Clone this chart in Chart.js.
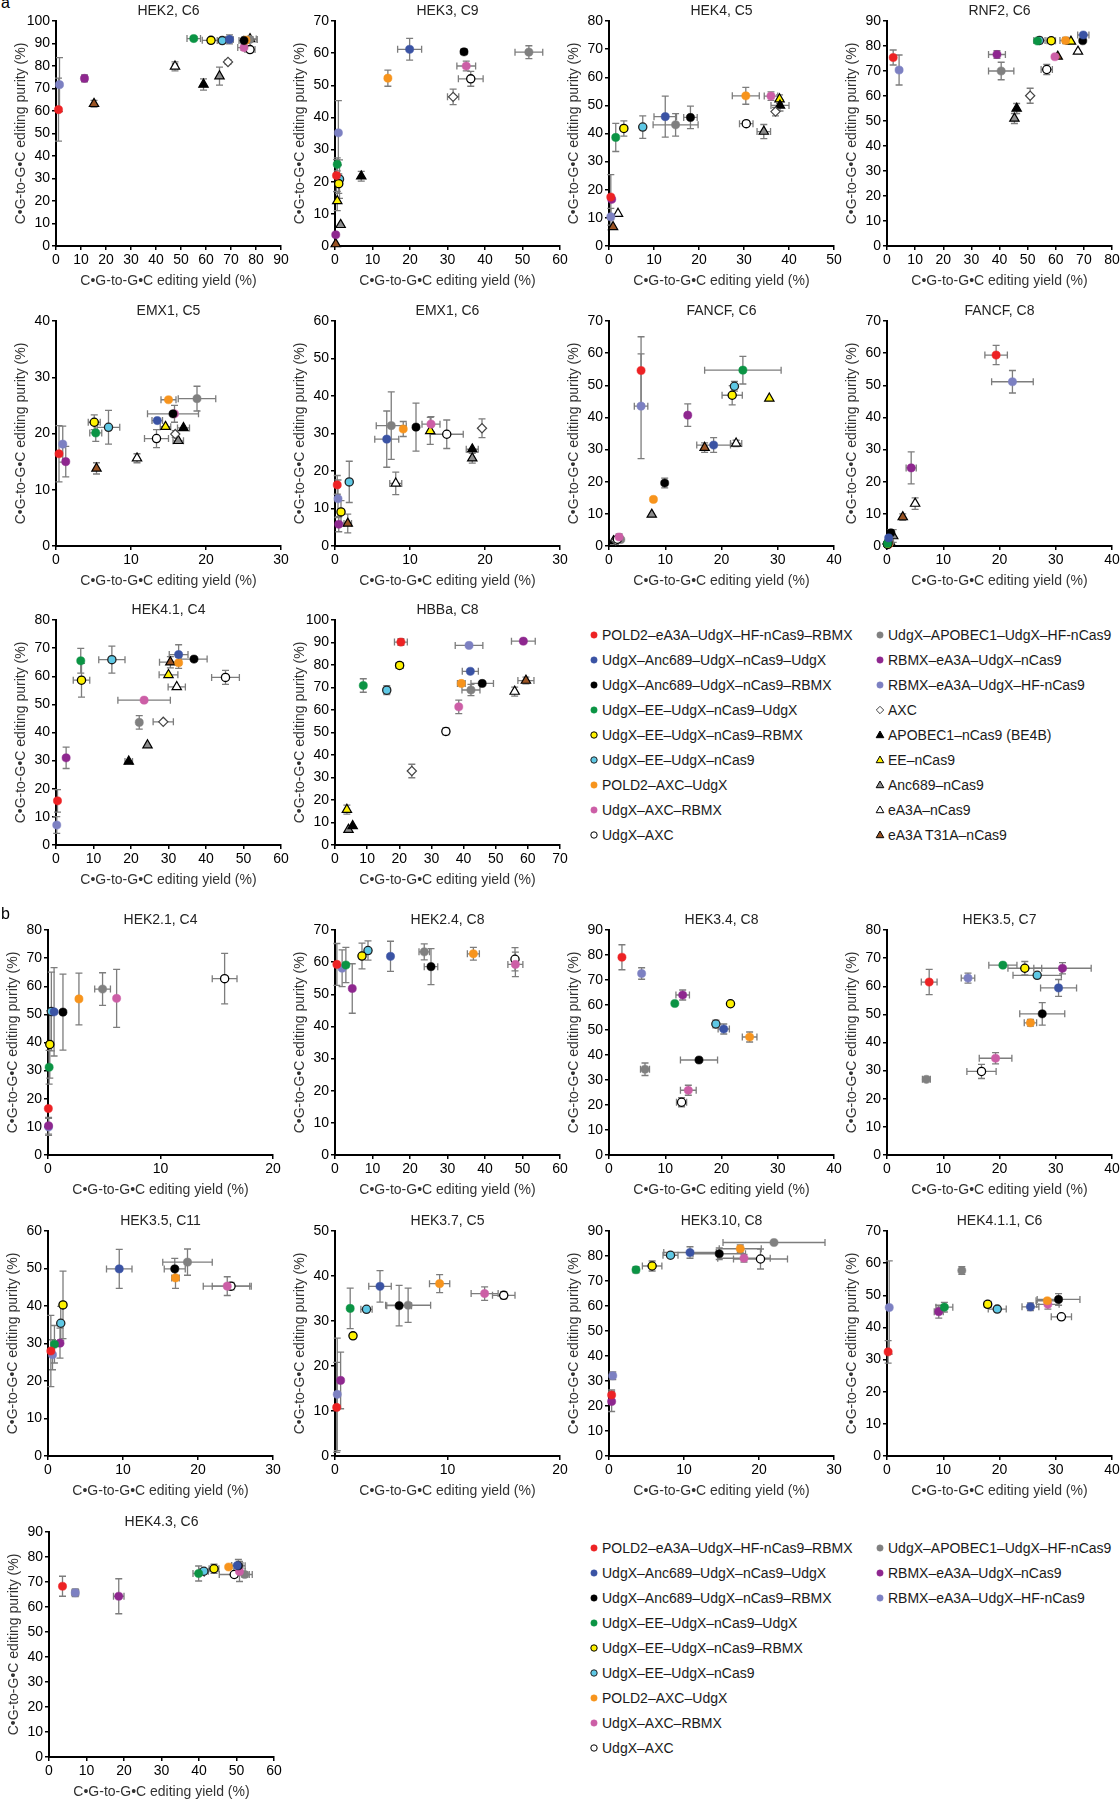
<!DOCTYPE html>
<html>
<head>
<meta charset="utf-8">
<script src="https://cdn.jsdelivr.net/npm/chart.js@4.4.1/dist/chart.umd.min.js"></script>
<style>
  html, body { margin: 0; padding: 0; background: #fff; overflow: hidden; }
  #page { position: relative; width: 1120px; height: 1800px; overflow: hidden; font-family: "Liberation Sans", Arial, sans-serif; }
  .panel { position: absolute; }
  .tag { position: absolute; font-size: 16px; line-height: 16px; color: #000; }
  .lg { position: absolute; display: flex; align-items: center; height: 18px; font-size: 14px; color: #1a1a1a; white-space: nowrap; }
  .lg svg { margin-right: 2px; flex: none; }
</style>
</head>
<body>
<div id="page"></div>
<script>
// series (legend order)
const SERIES = [
  'POLD2–eA3A–UdgX–HF-nCas9–RBMX', 'UdgX–Anc689–UdgX–nCas9–UdgX', 'UdgX–Anc689–UdgX–nCas9–RBMX',
  'UdgX–EE–UdgX–nCas9–UdgX', 'UdgX–EE–UdgX–nCas9–RBMX', 'UdgX–EE–UdgX–nCas9',
  'POLD2–AXC–UdgX', 'UdgX–AXC–RBMX', 'UdgX–AXC',
  'UdgX–APOBEC1–UdgX–HF-nCas9', 'RBMX–eA3A–UdgX–nCas9', 'RBMX–eA3A–UdgX–HF-nCas9',
  'AXC', 'APOBEC1–nCas9 (BE4B)', 'EE–nCas9', 'Anc689–nCas9', 'eA3A–nCas9', 'eA3A T31A–nCas9'
];
const COLORS = ['#ed2224', '#3a53a4', '#000000', '#0b9444', '#fff200', '#5ec8e5', '#f7941d', '#cc5ea6', '#ffffff',
  '#808080', '#8e278f', '#7c80c2', '#ffffff', '#000000', '#fff200', '#8c8c8c', '#ffffff', '#9a5424'];
const EDGES = ['#ed2224', '#3a53a4', '#000000', '#0b9444', '#000000', '#222222', '#f7941d', '#cc5ea6', '#000000',
  '#808080', '#8e278f', '#7c80c2', '#444444', '#000000', '#000000', '#000000', '#000000', '#000000'];
const SHAPES = ['circle', 'circle', 'circle', 'circle', 'circle', 'circle', 'circle', 'circle', 'circle',
  'circle', 'circle', 'circle', 'rectRot', 'triangle', 'triangle', 'triangle', 'triangle', 'triangle'];

// each row: [yield, purity, yield error, purity error] in legend order; null = not shown
const HEK2_C6 = [
  [1.0, 60.6, 0, 14], [69.4, 91.8, 1.5, 2], [75.2, 91.3, 2, 1], [55.1, 92.2, 2.7, 0.8], [62, 91.4, 3.5, 0.8], [66.5, 91.3, 2, 0.8],
  [76, 91.5, 1.5, 1], [75.2, 88.2, 2.5, 1.2], [77.6, 87.3, 2, 1], [77.5, 91.8, 3, 1], [11.4, 74.5, 0, 1.5], [1.4, 71.7, 0, 12],
  [68.8, 81.8, 0, 1], [59, 71.8, 0, 2.5], [77.6, 92, 2.5, 1], [65.4, 75.5, 0, 4], [47.6, 79.8, 1, 2], [15.2, 63.2, 0, 1.5]
];
const HEK3_C9 = [
  [0.4, 21.9, 0, 5], [19.9, 61.2, 3.2, 3.4], [34.4, 60.4, 0.8, 0.8], [0.6, 25.4, 0, 2], [1.0, 19.4, 0, 3], [1.2, 20.8, 0, 6],
  [14.1, 52.2, 0, 2.5], [35, 56, 2.5, 1.5], [36.2, 52, 3.3, 2.3], [51.7, 60.3, 3.7, 2], [0.2, 3.5, 0, 0], [0.9, 35.2, 0, 10],
  [31.5, 46.4, 1.5, 2.4], [7, 21.7, 0, 1.5], [0.6, 14, 0, 3], [1.5, 6.6, 0, 0], null, [0.2, 0.6, 0, 0]
];
const HEK4_C5 = [
  [0.4, 17.4, 0, 8], [12.5, 46, 2.5, 7.3], [18.1, 45.7, 1.5, 4], [1.5, 38.6, 0, 5], [3.3, 41.8, 0, 2.7], [7.5, 42.3, 0, 4],
  [30.4, 53.4, 3, 3], [36, 53.3, 1.5, 1.5], [30.5, 43.5, 1.5, 1], [14.8, 43.1, 5, 4], [0.6, 16.6, 0, 0], [0.4, 10.4, 0, 3],
  [37, 47.8, 0, 1.5], [38, 50, 2, 2], [37.9, 52.2, 0, 1.5], [34.4, 40.7, 1.5, 2.5], [2.0, 11.5, 0, 0], [0.9, 6.8, 0, 0]
];
const RNF2_C6 = [
  [2.2, 75.4, 0, 3], [69.8, 84.4, 2, 0], [69.6, 82.1, 0, 0], [53.5, 82, 0, 0], [58.4, 82.1, 1.5, 0], [54.2, 82.2, 2, 1.2],
  [63.5, 82.2, 2, 1.2], [59.7, 75.7, 0, 0], [56.8, 70.6, 2, 2], [40.6, 70, 4.5, 3.5], [39.1, 76.6, 3, 1.5], [4.3, 70.4, 0, 6],
  [50.9, 60.1, 0, 3], [46.1, 55, 0, 2], [65.4, 81.8, 0, 0], [45.3, 51, 0, 2], [67.9, 77.8, 0, 0], [60.7, 75.8, 0, 0]
];
const EMX1_C5 = [
  [0.4, 16.4, 0, 5], [13.5, 22.3, 0.7, 0], [15.6, 23.5, 3.4, 0], [5.3, 20.1, 0.8, 1.5], [5.1, 22, 0.8, 1.3], [7.0, 21.1, 1.5, 3],
  [15, 26, 1, 0], [15.8, 23.5, 0, 1.5], [13.4, 19.1, 1.6, 1.6], [18.8, 26.2, 2.5, 2.2], [1.3, 15, 0, 2.7], [0.9, 18.1, 0, 3.2],
  [15.9, 19.9, 0, 0.6], [17, 21, 0.8, 0], [14.6, 21.2, 0.7, 0], [16.3, 18.7, 0.7, 0], [10.8, 15.6, 0, 0.8], [5.4, 13.8, 0, 1]
];
const EMX1_C6 = [
  [0.3, 16.3, 0, 2.5], [6.9, 28.5, 1.6, 7.5], [10.8, 31.7, 0, 6.4], null, [0.8, 9.1, 0, 3], [1.9, 17.1, 0, 5.5],
  [9.1, 31.2, 0, 2], [12.8, 32.5, 1.2, 2], [14.9, 29.8, 2.2, 3.8], [7.5, 32.1, 2, 9], [0.5, 5.8, 0, 2], [0.4, 12.6, 0, 5],
  [19.6, 31.4, 0, 2.5], [18.3, 25.8, 0.8, 0], [12.7, 30.7, 0, 3.6], [18.3, 23.4, 0, 1.3], [8.1, 16.7, 0.8, 3], [1.7, 6, 0.5, 2.5]
];
const FANCF_C6 = [
  [5.7, 54.6, 0, 10.5], [18.6, 31.4, 3, 2.3], [9.9, 19.6, 0, 1.5], [23.8, 54.7, 6.8, 4.3], [21.9, 46.9, 1.8, 3], [22.3, 49.7, 0, 1.5],
  [7.9, 14.5, 0, 0], [1.8, 2.8, 0, 1], [1.5, 2.1, 0, 0], [2.1, 2, 0, 0], [14, 40.7, 0, 3.5], [5.7, 43.5, 1.2, 16.3],
  [1.2, 1.7, 0, 0], [0.8, 1.5, 0, 0], [28.5, 45.9, 0, 0], [7.6, 9.8, 0, 0], [22.6, 31.9, 1, 1], [17, 30.6, 0, 1.5]
];
const FANCF_C8 = [
  [19.4, 59.4, 2, 3], [0.3, 2.5, 0, 0], [0.7, 4.1, 0, 1], [0.1, 0.8, 0, 0], [0.1, 0.5, 0, 0], [0.2, 1.0, 0, 0],
  [0.3, 0.6, 0, 0], [0.2, 0.4, 0, 0], null, [0.5, 1.2, 0, 0], [4.3, 24.3, 0.9, 5], [22.3, 51.1, 3.7, 3.5],
  [0.4, 0.7, 0, 0], [0.6, 1.0, 0, 0], [0.1, 1.5, 0, 0], [1.1, 3.1, 0, 2], [5, 13.2, 0, 1.8], [2.8, 9, 0, 1]
];
const HEK41_C4 = [
  [0.4, 15.7, 0, 4], [32.7, 67.7, 2.5, 3.5], [36.8, 66.1, 3.5, 0], [6.6, 65.5, 0, 4.4], [6.8, 58.6, 2.2, 6], [14.9, 65.9, 3.5, 4.8],
  [32.7, 64.8, 0, 2], [23.5, 51.5, 7, 0], [45.2, 59.6, 3.7, 2.5], [22.2, 43.6, 0, 2.4], [2.7, 31, 0, 3.8], [0.2, 7.1, 0, 3],
  [28.6, 43.8, 2.7, 0], [19.4, 29.7, 1, 0], [30, 60.5, 2.5, 0], [24.4, 35.5, 0, 0], [32.2, 56.2, 2.3, 0], [30.5, 65, 2.9, 2]
];
const HBBA_C8 = [
  [20.5, 90.2, 2, 1.5], [42.1, 77.2, 2.5, 0], [45.8, 71.8, 3.5, 0], [8.8, 70.9, 0, 3], [20.1, 79.8, 1.1, 1], [16.1, 68.8, 1, 2],
  [39.3, 71.8, 1.2, 1], [38.5, 61.4, 0, 3], [34.5, 50.5, 0, 1.5], [42.3, 68.9, 2.8, 2.5], [58.6, 90.6, 3.7, 0], [41.7, 88.7, 4.3, 0],
  [23.9, 32.9, 0, 3], [5.5, 8.5, 0, 0], [3.7, 15.7, 0, 2], [4.2, 6.8, 0, 0], [55.9, 68.2, 0, 2], [59.4, 73.1, 2.5, 1.5]
];
const HEK21_C4 = [
  [0.03, 16.5, 0, 0], [0.54, 50.9, 0, 15.7], [1.33, 50.8, 0, 13.5], [0.1, 31.2, 0, 6], [0.16, 39.3, 0, 12], [0.3, 51, 0, 14],
  [2.75, 55.5, 0, 9.2], [6.1, 55.7, 0, 10.3], [15.7, 62.7, 1.1, 9], [4.85, 59, 0.7, 5.8], [0.05, 10.4, 0, 3], [0.05, 10, 0, 3]
];
const HEK24_C8 = [
  [0.5, 59.3, 0, 6.5], [14.8, 61.8, 0, 4.7], [25.6, 58.6, 1.8, 5.6], [2.9, 59.1, 0, 5.5], [7.2, 61.9, 0, 4], [8.8, 63.6, 0, 3],
  [36.9, 62.6, 1.6, 2], [48.1, 59.3, 2, 3.8], [48, 60.9, 0, 3.6], [23.8, 63.2, 1.4, 2.5], [4.6, 51.8, 0, 7.7], [1.9, 58.1, 0, 5.7]
];
const HEK34_C8 = [
  [2.3, 79.1, 0, 5], [20.4, 50.4, 1, 2], [16, 38, 3.3, 0], [11.7, 60.6, 0, 0], [21.6, 60.5, 0, 0], [19, 52.4, 0, 1.5],
  [25, 47.2, 1.3, 2], [14.1, 25.9, 1.4, 2], [12.9, 21.1, 0.9, 1.8], [6.4, 34.3, 0.8, 2.5], [13.1, 64, 1.2, 2], [5.8, 72.6, 0, 2.3]
];
const HEK35_C7 = [
  [7.5, 61.5, 1.4, 4.5], [30.5, 59.4, 3.2, 3], [27.6, 50.2, 4, 4], [20.6, 67.5, 2.5, 0], [24.5, 66.4, 3, 2.4], [26.7, 63.9, 4.3, 0],
  [25.5, 47, 1.1, 1.2], [19.3, 34.4, 2.9, 2], [16.8, 29.7, 2.6, 2.5], [7, 26.9, 0.7, 0], [31.2, 66.4, 5.1, 2], [14.4, 62.9, 1.2, 1.8]
];
const HEK35_C11 = [
  [0.38, 28, 0, 9.5], [9.5, 49.9, 1.7, 5.2], [16.9, 49.9, 1.4, 2.8], [0.86, 29.8, 0, 5], [2, 40.3, 0, 9], [1.7, 35.4, 0, 4.5],
  [17, 47.5, 0.5, 2.8], [23.9, 45.3, 3.2, 2.5], [24.4, 45.3, 2.5, 1], [18.6, 51.7, 3.3, 3.5], [1.6, 30.1, 0, 4], [0.6, 27, 0, 4]
];
const HEK37_C5 = [
  [0.15, 10.8, 0, 10], [4, 37.7, 1, 3.5], [5.7, 33.4, 1.1, 4.5], [1.35, 32.8, 0, 4.5], [1.6, 26.7, 0, 0], [2.8, 32.6, 0.5, 0],
  [9.3, 38.3, 0.9, 2], [13.3, 36.1, 1.2, 1.5], [15, 35.7, 1, 0.8], [6.5, 33.5, 2, 3.8], [0.5, 16.8, 0, 6.3], [0.2, 13.7, 0, 12.5]
];
const HEK310_C8 = [
  [0.35, 24.4, 0, 2], [10.8, 81.4, 3.5, 2.3], [14.7, 80.9, 3.5, 2.3], [3.6, 74.5, 0, 1.2], [5.75, 76, 1.3, 2], [8.2, 80.3, 1, 0],
  [17.5, 82.9, 2.8, 1.5], [18, 79.1, 3.5, 1.5], [20.2, 78.8, 3.6, 4], [22, 85.4, 6.8, 0], [0.35, 21.8, 0, 4], [0.5, 32.1, 0, 1.5]
];
const HEK411_C6 = [
  [0.2, 32.4, 0, 3.5], [25.5, 46.4, 1.5, 1.2], [30.5, 48.7, 3.8, 1.8], [10.2, 46.3, 1.5, 1.5], [17.9, 47.2, 0.6, 0], [19.6, 45.7, 1.6, 0],
  [28.5, 48.3, 2, 0], [28.6, 47.2, 2, 1.5], [31, 43.3, 1.8, 0], [13.3, 57.7, 0, 1.2], [9.2, 44.9, 0.8, 2], [0.4, 46.2, 0, 14.5]
];
const HEK43_C6 = [
  [3.6, 68.3, 0, 4], [50.2, 76.6, 1.5, 0], [50.5, 76.5, 1.8, 2.5], [39.9, 73.4, 1.5, 3], [44, 75.3, 1.3, 1.8], [41.3, 74.3, 1.2, 0],
  [47.9, 76, 0, 0], [50.8, 74.2, 1.5, 4], [49.4, 73, 4, 0], [52.2, 73, 2, 1], [18.6, 64.3, 1.4, 7], [7, 65.7, 0.9, 1.5]
];

const PANEL_DATA = [HEK2_C6, HEK3_C9, HEK4_C5, RNF2_C6, EMX1_C5, EMX1_C6, FANCF_C6, FANCF_C8, HEK41_C4, HBBA_C8,
  HEK21_C4, HEK24_C8, HEK34_C8, HEK35_C7, HEK35_C11, HEK37_C5, HEK310_C8, HEK411_C6, HEK43_C6];
const TITLES = ['HEK2, C6', 'HEK3, C9', 'HEK4, C5', 'RNF2, C6', 'EMX1, C5', 'EMX1, C6', 'FANCF, C6', 'FANCF, C8', 'HEK4.1, C4', 'HBBa, C8',
  'HEK2.1, C4', 'HEK2.4, C8', 'HEK3.4, C8', 'HEK3.5, C7', 'HEK3.5, C11', 'HEK3.7, C5', 'HEK3.10, C8', 'HEK4.1.1, C6', 'HEK4.3, C6'];
const X_MAX = [90, 60, 50, 80, 30, 30, 40, 40, 60, 70, 20, 60, 40, 40, 30, 20, 30, 40, 60];
const Y_MAX = [100, 70, 80, 90, 40, 60, 70, 70, 80, 100, 80, 70, 90, 80, 60, 50, 90, 70, 90];
const X_LABEL = 'C•G-to-G•C editing yield (%)';
const Y_LABEL = 'C•G-to-G•C editing purity (%)';

// page layout: [y-axis x, plot top] per panel
const LAYOUT = [
  [56, 21], [335, 21], [609, 21], [887, 21],
  [56, 321], [335, 321], [609, 321], [887, 321],
  [56, 620], [335, 620],
  [48, 930], [335, 930], [609, 930], [887, 930],
  [48, 1231], [335, 1231], [609, 1231], [887, 1231],
  [49, 1532]
];
const PLOT = 225, PAD_L = 43, PAD_R = 16, PAD_T = 18, PAD_B = 44;

Chart.defaults.font.family = "'Liberation Sans', Arial, sans-serif";

const errorBars = {
  id: 'errorBars',
  beforeDatasetsDraw(chart) {
    const { ctx, scales: { x, y } } = chart;
    const cap = 3.5;
    ctx.save();
    ctx.strokeStyle = '#7d7d7d';
    ctx.lineWidth = 1.3;
    chart.data.datasets.forEach(ds => ds.data.forEach(p => {
      const px = x.getPixelForValue(p.x), py = y.getPixelForValue(p.y);
      ctx.beginPath();
      if (p.xe) {
        const a = x.getPixelForValue(p.x - p.xe), b = x.getPixelForValue(p.x + p.xe);
        ctx.moveTo(a, py); ctx.lineTo(b, py);
        ctx.moveTo(a, py - cap); ctx.lineTo(a, py + cap);
        ctx.moveTo(b, py - cap); ctx.lineTo(b, py + cap);
      }
      if (p.ye) {
        const a = y.getPixelForValue(p.y - p.ye), b = y.getPixelForValue(p.y + p.ye);
        ctx.moveTo(px, a); ctx.lineTo(px, b);
        ctx.moveTo(px - cap, a); ctx.lineTo(px + cap, a);
        ctx.moveTo(px - cap, b); ctx.lineTo(px + cap, b);
      }
      ctx.stroke();
    }));
    ctx.restore();
  }
};

function axis(max, label, fixSize) {
  return {
    type: 'linear', min: 0, max: max,
    ticks: { stepSize: 10, color: '#000', font: { size: 14 }, padding: 2, autoSkip: false, maxRotation: 0 },
    grid: { display: true, drawOnChartArea: false, drawTicks: true, tickLength: 4, color: '#000', lineWidth: 1.5 },
    border: { display: true, color: '#000', width: 2 },
    title: { display: true, text: label, color: '#333', font: { size: 14, lineHeight: '17px' }, padding: { top: 0, bottom: 0 } },
    afterFit: fixSize
  };
}

const page = document.getElementById('page');

PANEL_DATA.forEach((rows, k) => {
  const [ax, top] = LAYOUT[k];
  const box = document.createElement('div');
  box.className = 'panel';
  box.style.left = (ax - PAD_L) + 'px';
  box.style.top = (top - PAD_T) + 'px';
  const cv = document.createElement('canvas');
  cv.width = PAD_L + PLOT + PAD_R;
  cv.height = PAD_T + PLOT + PAD_B;
  box.appendChild(cv);
  page.appendChild(box);

  const datasets = [];
  rows.forEach((r, i) => {
    if (!r) return;
    const shape = SHAPES[i];
    datasets.push({
      label: SERIES[i],
      data: [{ x: r[0], y: r[1], xe: r[2], ye: r[3] }],
      pointStyle: shape,
      pointRadius: shape === 'triangle' ? 5.4 : shape === 'rectRot' ? 4.6 : 4.1,
      backgroundColor: COLORS[i],
      borderColor: EDGES[i],
      pointBorderWidth: shape === 'circle' ? (EDGES[i] === COLORS[i] ? 0.5 : 1.3) : 1.2,
      clip: false
    });
  });

  new Chart(cv, {
    type: 'scatter',
    data: { datasets },
    options: {
      responsive: false,
      animation: false,
      devicePixelRatio: 1,
      events: [],
      layout: { padding: { left: 0, top: 0, right: PAD_R, bottom: 0 } },
      plugins: {
        legend: { display: false },
        tooltip: { enabled: false },
        title: {
          display: true, text: TITLES[k], fullSize: false, color: '#222',
          font: { size: 14, weight: 'normal', lineHeight: '17px' }, padding: { top: 0, bottom: 1 }
        }
      },
      scales: {
        x: axis(X_MAX[k], X_LABEL, s => { s.height = PAD_B; }),
        y: axis(Y_MAX[k], Y_LABEL, s => { s.width = PAD_L; })
      }
    },
    plugins: [errorBars]
  });
});

// panel letters
[['a', 1, -5], ['b', 1, 906]].forEach(([t, x, y]) => {
  const d = document.createElement('div');
  d.className = 'tag';
  d.style.left = x + 'px';
  d.style.top = y + 'px';
  d.textContent = t;
  page.appendChild(d);
});

// legends
function markerSvg(i) {
  const c = COLORS[i], e = EDGES[i];
  let shape;
  if (SHAPES[i] === 'circle') {
    shape = `<circle cx="6" cy="6" r="3.2" fill="${c}" stroke="${e}" stroke-width="${e === c ? 0.5 : 1}"/>`;
  } else if (SHAPES[i] === 'rectRot') {
    shape = `<polygon points="6,2.3 9.7,6 6,9.7 2.3,6" fill="${c}" stroke="${e}" stroke-width="1"/>`;
  } else {
    shape = `<polygon points="6,2 9.8,8.7 2.2,8.7" fill="${c}" stroke="${e}" stroke-width="1"/>`;
  }
  return `<svg width="12" height="12" viewBox="0 0 12 12">${shape}</svg>`;
}
function legend(count, firstRowY) {
  for (let i = 0; i < count; i++) {
    const col = i < 9 ? 0 : 1;
    const row = i % 9;
    const d = document.createElement('div');
    d.className = 'lg';
    d.style.left = (col === 0 ? 588 : 874) + 'px';
    d.style.top = (firstRowY + row * 25 - 9) + 'px';
    d.innerHTML = markerSvg(i) + '<span>' + SERIES[i] + '</span>';
    page.appendChild(d);
  }
}
legend(18, 635);
legend(12, 1548);
</script>
</body>
</html>
